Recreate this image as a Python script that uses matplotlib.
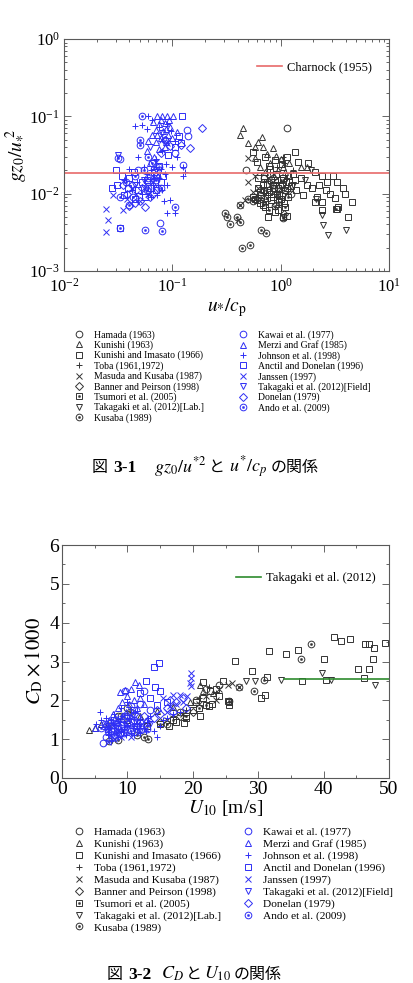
import matplotlib
matplotlib.use('Agg')
import matplotlib.pyplot as plt
from matplotlib.ticker import MultipleLocator, LogLocator, NullFormatter

plt.rcParams['font.family'] = ['Liberation Serif', 'DejaVu Serif']
plt.rcParams['mathtext.fontset'] = 'stix'

W, H = 413, 983
BLACK = '#333333'
BLUE = '#2f2ff5'

# ---- fig 3-1 : gz0/u*^2 vs u*/cp  (x, y) ----
hamada_a = [(1.14, 0.070), (0.48, 0.020), (0.85, 0.013), (1.25, 0.010), (0.70, 0.016)]
kunishi_a = [(0.45, 0.070), (0.42, 0.057), (0.50, 0.045), (0.62, 0.047), (0.67, 0.054), (0.69, 0.040),
             (0.58, 0.040), (0.85, 0.039), (0.58, 0.029), (0.75, 0.033), (0.90, 0.031), (1.00, 0.028),
             (1.20, 0.025), (1.55, 0.022), (1.75, 0.022), (0.80, 0.025), (0.95, 0.020), (1.10, 0.019),
             (0.65, 0.022), (0.72, 0.019), (0.86, 0.017), (1.05, 0.022)]
imasato_a = [(0.55, 0.035), (0.60, 0.026), (0.72, 0.030), (0.78, 0.023), (0.88, 0.027), (1.02, 0.024),
             (1.15, 0.030), (1.36, 0.035), (1.46, 0.026), (1.80, 0.025), (2.08, 0.019), (2.40, 0.017),
             (3.07, 0.017), (2.67, 0.014), (3.30, 0.014), (3.80, 0.012), (3.93, 0.010), (2.86, 0.010),
             (3.18, 0.0087), (2.15, 0.0091), (2.08, 0.0077), (2.40, 0.0077), (3.41, 0.0068), (3.30, 0.0063),
             (4.54, 0.0077), (4.22, 0.0050), (0.77, 0.0050), (2.43, 0.0061), (1.75, 0.013), (1.55, 0.016),
             (1.30, 0.018), (1.20, 0.014), (1.05, 0.016), (0.95, 0.012), (0.90, 0.018), (0.82, 0.015),
             (0.75, 0.011), (0.68, 0.013), (0.62, 0.016), (0.58, 0.0085), (0.65, 0.0075), (0.72, 0.0068),
             (0.85, 0.0090), (1.00, 0.0085), (1.10, 0.011), (1.40, 0.011), (1.60, 0.0095), (1.95, 0.012),
             (2.25, 0.013), (2.60, 0.011), (0.95, 0.0062), (0.80, 0.021), (0.62, 0.012), (0.66, 0.0095),
             (0.70, 0.017), (0.74, 0.0135), (0.78, 0.0105), (0.82, 0.0082), (0.86, 0.012), (0.92, 0.015),
             (0.97, 0.0095), (1.02, 0.013), (1.08, 0.0075), (1.12, 0.014), (1.18, 0.017), (1.25, 0.0125),
             (1.35, 0.015), (0.88, 0.0058), (1.15, 0.0052)]
toba_a = [(1.05, 0.030), (1.08, 0.025), (0.92, 0.022), (0.80, 0.019), (1.15, 0.016), (0.70, 0.014),
          (1.30, 0.020), (0.95, 0.014)]
masuda_a = [(0.50, 0.029), (0.50, 0.014), (0.465, 0.0083), (0.55, 0.0106), (0.405, 0.0046), (0.42, 0.0072),
            (0.62, 0.012), (0.70, 0.0095), (0.80, 0.013), (0.90, 0.011), (1.00, 0.012), (0.58, 0.017),
            (0.76, 0.016)]
banner_a = [(1.02, 0.0095), (1.08, 0.0055), (0.90, 0.0072), (1.20, 0.011), (0.85, 0.016)]
tsumori_a = [(0.60, 0.0082), (0.78, 0.0062), (0.92, 0.0100), (1.00, 0.015), (0.70, 0.011), (1.18, 0.0090),
             (1.10, 0.0068), (0.85, 0.013), (3.25, 0.0064), (0.55, 0.009), (1.05, 0.005), (0.64, 0.0105),
             (0.74, 0.0088), (0.82, 0.010), (0.96, 0.0078), (1.14, 0.012), (0.68, 0.0072)]
taklab_a = [(2.40, 0.0053), (2.46, 0.0039), (2.73, 0.0029), (4.04, 0.0034), (1.66, 0.015), (1.90, 0.020),
            (2.10, 0.0085), (1.30, 0.013), (0.90, 0.0095)]
kusaba_a = [(0.307, 0.0056), (0.317, 0.0050), (0.341, 0.0041), (0.394, 0.0050), (0.42, 0.0043),
            (0.653, 0.0034), (0.737, 0.0031), (0.44, 0.0020), (0.52, 0.0022), (0.42, 0.0072), (0.50, 0.0085),
            (0.56, 0.0080), (0.62, 0.0088), (0.72, 0.0078), (0.88, 0.0070), (1.05, 0.0048)]

kawai_a = [(0.136, 0.067), (0.140, 0.055), (0.106, 0.034), (0.125, 0.0235), (0.077, 0.0042), (0.048, 0.020),
           (0.033, 0.028), (0.085, 0.050), (0.060, 0.016)]
merzi_a = [(0.072, 0.100), (0.080, 0.100), (0.089, 0.100), (0.101, 0.100), (0.066, 0.085), (0.075, 0.080),
           (0.085, 0.082), (0.095, 0.072), (0.070, 0.066), (0.082, 0.064), (0.092, 0.058), (0.065, 0.058),
           (0.078, 0.052), (0.088, 0.047), (0.070, 0.046), (0.060, 0.048), (0.100, 0.052), (0.110, 0.062),
           (0.075, 0.038), (0.068, 0.030), (0.058, 0.036), (0.085, 0.040), (0.062, 0.025), (0.079, 0.090),
           (0.094, 0.090), (0.088, 0.068), (0.072, 0.058)]
johnson_a = [(0.060, 0.100), (0.045, 0.074), (0.052, 0.078), (0.058, 0.068), (0.065, 0.090), (0.076, 0.072),
             (0.090, 0.080), (0.098, 0.065), (0.105, 0.048), (0.099, 0.022), (0.125, 0.022), (0.130, 0.019),
             (0.125, 0.017), (0.106, 0.0056), (0.089, 0.0056), (0.095, 0.0082), (0.090, 0.013), (0.080, 0.011),
             (0.072, 0.0095), (0.066, 0.013), (0.075, 0.016), (0.085, 0.018), (0.055, 0.022), (0.048, 0.030),
             (0.040, 0.021), (0.070, 0.028), (0.110, 0.030), (0.080, 0.036), (0.036, 0.015), (0.042, 0.011),
             (0.047, 0.014), (0.053, 0.010), (0.058, 0.018), (0.063, 0.009), (0.068, 0.016), (0.073, 0.013),
             (0.078, 0.021), (0.083, 0.008), (0.088, 0.024), (0.064, 0.020)]
anctil_a = [(0.124, 0.100), (0.030, 0.020), (0.031, 0.013), (0.036, 0.0095), (0.028, 0.012), (0.040, 0.016),
            (0.048, 0.011), (0.058, 0.015), (0.068, 0.019), (0.078, 0.014), (0.092, 0.032), (0.105, 0.040),
            (0.115, 0.055), (0.120, 0.045), (0.064, 0.012), (0.045, 0.0085), (0.033, 0.0036), (0.034, 0.017),
            (0.039, 0.012), (0.044, 0.019), (0.052, 0.014), (0.056, 0.009), (0.062, 0.017), (0.070, 0.011),
            (0.075, 0.023), (0.082, 0.017)]
janssen_a = [(0.0243, 0.0063), (0.0254, 0.0045), (0.0243, 0.0032), (0.0347, 0.0061), (0.0283, 0.0096),
             (0.042, 0.0120), (0.050, 0.0080), (0.060, 0.010), (0.070, 0.026), (0.080, 0.050), (0.090, 0.045),
             (0.038, 0.0085), (0.046, 0.010), (0.055, 0.012), (0.066, 0.014), (0.074, 0.018)]
takfield_a = [(0.0316, 0.032), (0.055, 0.015), (0.070, 0.020), (0.062, 0.040), (0.080, 0.060), (0.045, 0.013)]
donelan_a = [(0.187, 0.070), (0.145, 0.0386), (0.120, 0.042), (0.040, 0.0070), (0.045, 0.0075), (0.050, 0.0080),
             (0.056, 0.0068), (0.062, 0.0090), (0.067, 0.0100), (0.073, 0.0120), (0.085, 0.050), (0.095, 0.041),
             (0.078, 0.034), (0.035, 0.013), (0.038, 0.0100), (0.052, 0.0120), (0.042, 0.013), (0.060, 0.014),
             (0.070, 0.017)]
ando_a = [(0.052, 0.100), (0.0316, 0.029), (0.033, 0.0036), (0.056, 0.0034), (0.080, 0.0033), (0.106, 0.0067),
          (0.050, 0.050), (0.055, 0.020), (0.060, 0.030), (0.065, 0.025), (0.070, 0.015), (0.045, 0.017),
          (0.033, 0.0090), (0.040, 0.0072), (0.050, 0.042), (0.060, 0.0120), (0.075, 0.022), (0.037, 0.014),
          (0.043, 0.009), (0.058, 0.011), (0.068, 0.021), (0.078, 0.012)]
charnock = 0.0185

# ---- fig 3-2 : CD*1000 vs U10  (x, y) ----
hamada_b = [(20.5, 2.00), (22.0, 2.30), (24.0, 2.40), (8.5, 1.60), (10.0, 1.80), (18.0, 1.70)]
kunishi_b = [(4.1, 1.24), (5.0, 1.30), (6.0, 1.38), (7.0, 1.40), (10.0, 1.50), (12.0, 1.60), (14.5, 1.72),
             (17.0, 1.82), (19.5, 1.95), (21.1, 2.40), (23.1, 2.18), (21.5, 2.25)]
imasato_b = [(21.6, 2.46), (24.6, 2.49), (26.4, 3.02), (29.1, 2.76), (31.7, 3.28), (34.2, 3.20), (36.1, 3.30),
             (41.6, 3.62), (42.7, 3.54), (44.0, 3.57), (46.4, 3.44), (46.9, 3.44), (47.7, 3.36), (49.4, 3.47),
             (40.1, 3.06), (47.6, 3.06), (45.3, 2.81), (46.9, 2.81), (46.2, 2.58), (40.4, 2.53), (36.7, 2.49),
             (30.4, 2.06), (31.0, 2.14), (31.4, 2.60), (25.6, 1.89), (25.4, 1.97), (22.6, 2.23), (21.1, 1.59),
             (18.6, 1.41), (16.3, 1.33), (23.5, 2.30), (22.5, 1.85), (20.0, 1.75), (24.0, 2.10), (19.0, 1.55),
             (17.5, 1.45), (21.5, 2.05), (23.0, 1.90), (20.5, 1.95)]
toba_b = [(22.5, 2.35), (23.5, 2.20), (21.0, 2.05), (19.0, 1.75), (17.0, 1.60)]
masuda_b = [(25.4, 2.40), (20.9, 1.91), (22.0, 2.10), (26.0, 2.45), (27.0, 2.35), (24.0, 2.28), (23.5, 2.00),
            (18.5, 1.65), (16.0, 1.50)]
banner_b = [(18.0, 1.60), (20.0, 1.70), (15.0, 1.45)]
tsumori_b = [(25.6, 1.95), (21.0, 1.80), (19.0, 1.60), (17.0, 1.50), (15.0, 1.40), (13.0, 1.35), (22.0, 1.88)]
taklab_b = [(28.2, 2.51), (29.5, 2.49), (33.5, 2.53), (39.7, 2.70), (41.2, 2.53), (47.9, 2.40)]
kusaba_b = [(38.0, 3.45), (36.5, 3.06), (29.4, 2.25), (30.9, 2.53), (27.1, 2.34), (25.6, 1.97), (13.1, 1.00),
            (8.6, 0.99), (7.2, 0.95), (10.4, 1.71), (9.0, 1.60), (11.5, 1.10), (12.5, 1.05), (16.0, 1.40)]

kawai_b = [(6.3, 0.90), (12.0, 1.91), (12.5, 2.23), (9.7, 2.23), (7.5, 1.20), (8.5, 1.35), (9.5, 1.60),
           (10.5, 1.85), (11.0, 1.50), (13.5, 1.75), (8.0, 1.05), (10.0, 1.25), (6.8, 1.05), (7.8, 1.30),
           (8.8, 1.15), (9.2, 1.40), (10.8, 1.45), (11.5, 1.60), (12.2, 1.25)]
merzi_b = [(11.2, 2.48), (8.9, 2.22), (9.6, 2.27), (10.5, 2.30), (11.8, 2.40), (10.0, 2.10), (9.2, 1.95),
           (8.5, 1.80), (7.8, 1.65), (11.0, 2.00), (12.5, 1.90), (6.5, 1.40), (5.0, 1.30), (10.5, 1.60),
           (7.2, 1.50), (8.2, 1.45), (9.8, 1.70), (10.2, 1.90), (11.5, 1.80), (12.0, 2.05), (7.0, 1.25)]
johnson_b = [(5.8, 1.71), (5.2, 1.40), (6.5, 1.25), (7.0, 1.35), (7.5, 1.50), (8.0, 1.30), (8.5, 1.55),
             (9.0, 1.20), (9.5, 1.45), (10.0, 1.35), (10.5, 1.15), (11.0, 1.40), (11.5, 1.25), (12.0, 1.50),
             (12.5, 1.30), (13.0, 1.45), (14.0, 1.20), (14.5, 1.05), (15.0, 1.35), (16.0, 1.55), (17.0, 1.65),
             (18.0, 1.70), (7.0, 1.10), (8.0, 1.65), (9.0, 1.80), (10.0, 1.95), (11.0, 1.10), (13.5, 1.60),
             (15.5, 1.50), (6.0, 1.50), (7.5, 0.95), (12.0, 1.15), (6.8, 1.55), (7.2, 1.25), (7.8, 1.40),
             (8.2, 1.15), (8.8, 1.45), (9.2, 1.60), (9.8, 1.10), (10.2, 1.55), (10.8, 1.30), (11.2, 1.70),
             (11.8, 1.40), (12.8, 1.20), (13.2, 1.55), (8.5, 1.05), (9.5, 1.25)]
anctil_b = [(14.0, 2.85), (14.9, 2.97), (12.9, 2.51), (14.2, 2.34), (15.0, 2.25), (12.0, 2.18), (14.5, 1.89),
            (13.5, 2.05), (16.0, 1.95), (11.0, 1.75)]
janssen_b = [(19.8, 2.70), (19.8, 2.57), (19.6, 2.44), (19.7, 2.36), (18.1, 2.14), (17.0, 2.14), (15.5, 2.06),
             (19.1, 2.10), (18.5, 1.95), (17.5, 1.90), (16.5, 1.85), (7.0, 0.92), (8.0, 1.00), (9.0, 1.05),
             (16.0, 1.70), (7.5, 1.10), (8.5, 1.20), (10.5, 1.05), (11.5, 1.15)]
takfield_b = [(10.0, 1.30), (12.0, 1.20), (13.5, 1.40), (9.0, 1.10), (7.5, 1.35), (8.5, 1.40), (11.0, 1.25)]
donelan_b = [(16.5, 2.00), (17.5, 1.95), (18.5, 2.05), (12.5, 1.60), (14.0, 1.55), (15.0, 1.65), (13.0, 1.45),
             (19.0, 1.80), (11.0, 1.65), (9.5, 1.50), (10.0, 1.60), (12.0, 1.45), (14.5, 1.75), (16.0, 1.80),
             (17.0, 1.70)]
ando_b = [(6.0, 1.30), (7.0, 1.20), (8.0, 1.10), (9.0, 1.30), (10.0, 1.40), (11.0, 1.50), (12.0, 1.35),
          (7.5, 1.45), (8.5, 1.25), (6.5, 1.40), (9.5, 1.15), (10.5, 1.20), (11.5, 1.35), (8.2, 1.50),
          (13.0, 1.25)]
takagaki_u = [34, 50]
takagaki_cd = [2.55, 2.55]

# label, fig3-1 data, fig3-2 data, marker, colour, dotted centre
series = [
    ("Hamada (1963)", hamada_a, hamada_b, 'o', BLACK, False),
    ("Kunishi (1963)", kunishi_a, kunishi_b, '^', BLACK, False),
    ("Kunishi and Imasato (1966)", imasato_a, imasato_b, 's', BLACK, False),
    ("Toba (1961,1972)", toba_a, toba_b, '+', BLACK, False),
    ("Masuda and Kusaba (1987)", masuda_a, masuda_b, 'x', BLACK, False),
    ("Banner and Peirson (1998)", banner_a, banner_b, 'D', BLACK, False),
    ("Tsumori et al. (2005)", tsumori_a, tsumori_b, 's', BLACK, True),
    ("Takagaki et al. (2012)[Lab.]", taklab_a, taklab_b, 'v', BLACK, False),
    ("Kusaba (1989)", kusaba_a, kusaba_b, 'o', BLACK, True),
    ("Kawai et al. (1977)", kawai_a, kawai_b, 'o', BLUE, False),
    ("Merzi and Graf (1985)", merzi_a, merzi_b, '^', BLUE, False),
    ("Johnson et al. (1998)", johnson_a, johnson_b, '+', BLUE, False),
    ("Anctil and Donelan (1996)", anctil_a, anctil_b, 's', BLUE, False),
    ("Janssen (1997)", janssen_a, janssen_b, 'x', BLUE, False),
    ("Takagaki et al. (2012)[Field]", takfield_a, takfield_b, 'v', BLUE, False),
    ("Donelan (1979)", donelan_a, donelan_b, 'D', BLUE, False),
    ("Ando et al. (2009)", ando_a, ando_b, 'o', BLUE, True),
]


def draw(ax, pts, marker, color, dot):
    x = [p[0] for p in pts]
    y = [p[1] for p in pts]
    ms = 4.0 if marker == 'D' else 4.8
    h, = ax.plot(x, y, ls='none', marker=marker, ms=ms, mfc='none', mec=color, mew=0.7)
    if dot:
        d, = ax.plot(x, y, ls='none', marker='o', ms=1.6, mfc=color, mec=color, mew=0.3)
        return (h, d)
    return h


def style(ax):
    ax.tick_params(which='both', direction='in', top=True, right=True, colors='0.3', width=0.6)
    ax.tick_params(which='major', length=5, labelcolor='black')
    ax.tick_params(which='minor', length=2.5)
    for s in ax.spines.values():
        s.set_color('0.35')
        s.set_linewidth(0.8)


fig = plt.figure(figsize=(W / 100, H / 100), dpi=100)
ax1 = fig.add_axes([64 / W, 1 - 271 / H, 325 / W, 232 / H])
ax2 = fig.add_axes([62 / W, 1 - 778 / H, 327 / W, 233 / H])

h1, h2 = [], []
for label, pa, pb, m, c, dot in series:
    h1.append(draw(ax1, pa, m, c, dot))
    h2.append(draw(ax2, pb, m, c, dot))
labels = [s[0] for s in series]

# fig 3-1
ln1 = ax1.axhline(charnock, color='#e86a6a', lw=1.2)
ax1.set_xscale('log')
ax1.set_yscale('log')
ax1.set_xlim(1e-2, 1e1)
ax1.set_ylim(1e-3, 1e0)
ax1.xaxis.set_minor_locator(LogLocator(subs=range(2, 10)))
ax1.yaxis.set_minor_locator(LogLocator(subs=range(2, 10)))
ax1.xaxis.set_minor_formatter(NullFormatter())
ax1.yaxis.set_minor_formatter(NullFormatter())
style(ax1)
ax1.tick_params(which='major', labelsize=12, pad=3)
ax1.tick_params(axis='x', which='major', pad=5)
ax1.set_xlabel(r'$u_{*}/c_{\mathrm{p}}$', fontsize=14, labelpad=0)
ax1.set_ylabel(r'$gz_0/u_{*}^{\ 2}$', fontsize=14, labelpad=1)
ax1.legend([ln1], ['Charnock (1955)'], loc='upper right', frameon=False, fontsize=9,
           handlelength=2.0, handletextpad=0.4, bbox_to_anchor=(0.962, 0.925), borderaxespad=0)

# fig 3-2
ln2, = ax2.plot(takagaki_u, takagaki_cd, color='#2e8b2e', lw=1.2)
ax2.set_xlim(0, 50)
ax2.set_ylim(0, 6)
ax2.xaxis.set_major_locator(MultipleLocator(10))
ax2.xaxis.set_minor_locator(MultipleLocator(5))
ax2.yaxis.set_major_locator(MultipleLocator(1))
ax2.yaxis.set_minor_locator(MultipleLocator(0.5))
style(ax2)
ax2.tick_params(which='major', labelsize=14, pad=2)
ax2.set_xlabel(r'$U_{10}$ [m/s]', fontsize=14, labelpad=0)
ax2.set_ylabel(r'$C_{\mathrm{D}}\times 1000$', fontsize=15, labelpad=3)
ax2.legend([ln2], ['Takagaki et al. (2012)'], loc='upper right', frameon=False, fontsize=9,
           handlelength=2.0, handletextpad=0.4, bbox_to_anchor=(0.975, 0.905), borderaxespad=0)

# legends below each panel (two columns)
def data_legend(handles, y_top, fs, xs, pad, sp):
    for (a, b), x0 in zip([(0, 9), (9, 17)], xs):
        fig.legend(handles[a:b], labels[a:b], loc='upper left', bbox_to_anchor=(x0 / W, 1 - y_top / H),
                   frameon=False, prop={'family': 'Liberation Serif', 'size': fs}, handlelength=1.0,
                   handletextpad=pad, labelspacing=sp, borderpad=0, borderaxespad=0)

data_legend(h1, 330, 7.0, [74.0, 238.0], 1.1, 0.08)
data_legend(h2, 827, 8.2, [73.3, 242.3], 0.85, 0.15)

# captions
fig.canvas.draw()
rend = fig.canvas.get_renderer()
cjk = dict(family=['Noto Sans CJK JP', 'DejaVu Sans'], fontsize=11.5)
bold = dict(family='Liberation Serif', weight='bold', fontsize=12.5)
mth = dict(fontsize=13)


def caption(x, y, pieces):
    for s, kw, gap in pieces:
        t = fig.text(x / W, 1 - y / H, s, ha='left', va='baseline', **kw)
        x = t.get_window_extent(rend).x1 + gap

caption(92, 472, [("図", cjk, 5), ("3-1", bold, 18), (r"$gz_0/u^{*2}$", mth, 2), ("と", cjk, 4),
                  (r"$u^{*}/c_p$", mth, 3), ("の関係", cjk, 0)])
caption(107, 979, [("図", cjk, 5), ("3-2", bold, 10), (r"$C_D$", mth, 2), ("と", cjk, 2),
                   (r"$U_{10}$", mth, 2), ("の関係", cjk, 0)])

fig.savefig('out.png', dpi=100)
